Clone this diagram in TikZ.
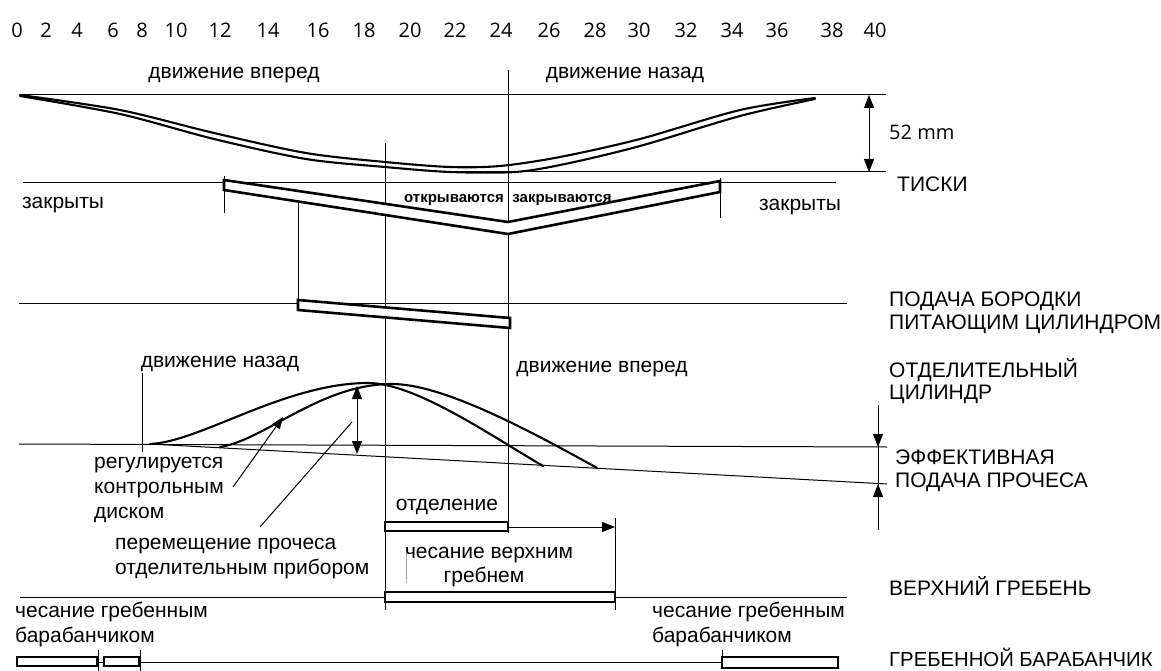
\documentclass[tikz,border=0pt]{standalone}
\usepackage{fontspec}
\setmainfont{Liberation Sans}
\newfontfamily\numfont{Open Sans}
\usetikzlibrary{arrows.meta}

\begin{document}
\begin{tikzpicture}[x=1pt,y=-1pt,
  thinline/.style={line width=1pt},
  band/.style={line width=2.6pt, line join=miter, fill=white},
  cam/.style={line width=2.1pt, line cap=round},
  lbl/.style={font=\fontsize{21}{25}\selectfont, inner sep=0pt},
  smalllbl/.style={font=\fontsize{15}{18}\selectfont\bfseries, inner sep=0pt},
  num/.style={font=\numfont\fontsize{20}{24}\selectfont, inner sep=0pt},
  Big/.tip={Triangle[length=13pt,width=10pt]},
]
\useasboundingbox (0,0) rectangle (1161,671);

% ---- scale (degrees of the cycle / index numbers)
\foreach \x/\t in {17/0,46/2,77/4,113/6,142/8,176/10,220/12,268/14,318/16,364/18,
                   410/20,455/22,501/24,549/26,595/28,639/30,686/32,732/34,777/36,832/38,875/40}
  \node[num, anchor=base] (n\t) at (\x,38) {\t};

% ---- nipper motion (top)
\node[lbl, anchor=base] (fwdtop) at (234,79) {движение вперед};
\node[lbl, anchor=base] (backtop) at (625,79) {движение назад};
\draw[thinline] (20,95) -- (886,95);
\draw[thinline] (460,172) -- (886,172);
\draw[cam] plot[smooth] coordinates {(20,95) (120,110) (214,133) (306,153) (385,162)
   (450,167) (500,166) (560,157) (640,139) (740,110) (815,98)};
\draw[cam] plot[smooth] coordinates {(20,96) (120,114) (214,139) (306,159) (385,167)
   (450,172) (515,172) (565,164) (640,146) (740,116) (815,99)};
\draw[thinline, Big-Big] (869,95) -- (869,172);
\node[lbl, font=\numfont\fontsize{20}{24}\selectfont, anchor=base west] (mm) at (889,140) {52 mm};

% ---- vertical reference lines
\draw[thinline] (508,70) -- (508,533);
\draw[thinline] (385,143) -- (385,610);

% ---- nippers
\draw[thinline] (23,183) -- (836,183);
\draw[thinline] (224,176) -- (224,213);
\draw[thinline] (720,178) -- (720,218);
\draw[thinline] (298,200) -- (298,305);
\draw[band] (224,180) -- (508,222) -- (720,181) -- (720,192) -- (508,234) -- (224,190) -- cycle;
\node[lbl, anchor=base west] (tiski) at (897,192) {ТИСКИ};
\node[lbl, anchor=base] (closedL) at (63,208) {закрыты};
\node[lbl, anchor=base] (closedR) at (800,210) {закрыты};
\node[smalllbl, anchor=base] (opening) at (454,202) {открываются};
\node[smalllbl, anchor=base] (closing) at (562,202) {закрываются};

% ---- feed roller
\draw[thinline] (19,303) -- (847,303);
\draw[band] (298,300) -- (510,318) -- (510,328) -- (298,310) -- cycle;
\node[lbl, anchor=base west] (feed1) at (889,306) {ПОДАЧА БОРОДКИ};
\node[lbl, anchor=base west] (feed2) at (889,329) {ПИТАЮЩИМ ЦИЛИНДРОМ};

% ---- detaching roller
\node[lbl, anchor=base] (backmid) at (220,367) {движение назад};
\node[lbl, anchor=base] (fwdmid) at (602,372) {движение вперед};
\node[lbl, anchor=base west] (detach1) at (889,377) {ОТДЕЛИТЕЛЬНЫЙ};
\node[lbl, anchor=base west] (detach2) at (889,399) {ЦИЛИНДР};
\draw[thinline] (142,373) -- (142,452);
\draw[thinline] (19,444) -- (887,447);
\draw[thinline] (150,444) -- (887,484);
% two detaching-roller motion curves
\draw[cam] (150,444) .. controls (200,442) and (285,383) .. (368,383)
                     .. controls (415,383) and (490,435) .. (543,466);
\draw[cam] (220,447) .. controls (265,440) and (320,384) .. (392,384)
                     .. controls (440,384) and (520,425) .. (597,468);
\draw[thinline, Big-Big] (357,386) -- (357,454);
\draw[thinline, -{Triangle[length=12pt,width=9pt]}] (233,487) -- (283,417);
\draw[thinline] (260,527) -- (352,422);
\draw[thinline] (878,405) -- (878,530);
\draw[thinline, -Big] (878,405) -- (878,447);
\draw[thinline, -Big] (878,530) -- (878,484);
\node[lbl, anchor=base west] (eff1) at (895,464) {ЭФФЕКТИВНАЯ};
\node[lbl, anchor=base west] (eff2) at (895,487) {ПОДАЧА ПРОЧЕСА};
\node[lbl, anchor=base west] (reg1) at (94,468) {регулируется};
\node[lbl, anchor=base west] (reg2) at (94,493) {контрольным};
\node[lbl, anchor=base west] (reg3) at (94,518) {диском};
\node[lbl, anchor=base west] (move1) at (115,549) {перемещение прочеса};
\node[lbl, anchor=base west] (move2) at (115,574) {отделительным прибором};

% ---- detaching and top comb
\node[lbl, anchor=base] (sep) at (447,510) {отделение};
\draw[band] (385,522) rectangle (508,531);
\draw[thinline, -Big] (509,527) -- (615,527);
\draw[thinline] (615,518) -- (615,610);
\draw[line width=0.5pt, black!35] (406,547) -- (406,583);
\node[lbl, anchor=base] (comb1) at (489,558) {чесание верхним};
\node[lbl, anchor=base] (comb2) at (484,582) {гребнем};
\draw[thinline] (20,597) -- (847,597);
\draw[band] (385,592) rectangle (615,602);
\node[lbl, anchor=base west] (topcomb) at (889,595) {ВЕРХНИЙ ГРЕБЕНЬ};

% ---- circular comb
\node[lbl, anchor=base west] (cc1) at (15,617) {чесание гребенным};
\node[lbl, anchor=base west] (cc2) at (15,642) {барабанчиком};
\node[lbl, anchor=base west] (cc3) at (652,617) {чесание гребенным};
\node[lbl, anchor=base west] (cc4) at (652,642) {барабанчиком};
\draw[thinline] (98,662) -- (722,662);
\draw[thinline] (98,650) -- (98,671);
\draw[thinline] (140,650) -- (140,671);
\draw[thinline] (722,650) -- (722,657);
\draw[band] (17,657) rectangle (97,666);
\draw[band] (104,657) rectangle (139,666);
\draw[band] (722,657) rectangle (838,668);
\node[lbl, font=\fontsize{20.3}{24}\selectfont, anchor=base west] (circ) at (889,666) {ГРЕБЕННОЙ БАРАБАНЧИК};
\end{tikzpicture}
\end{document}
